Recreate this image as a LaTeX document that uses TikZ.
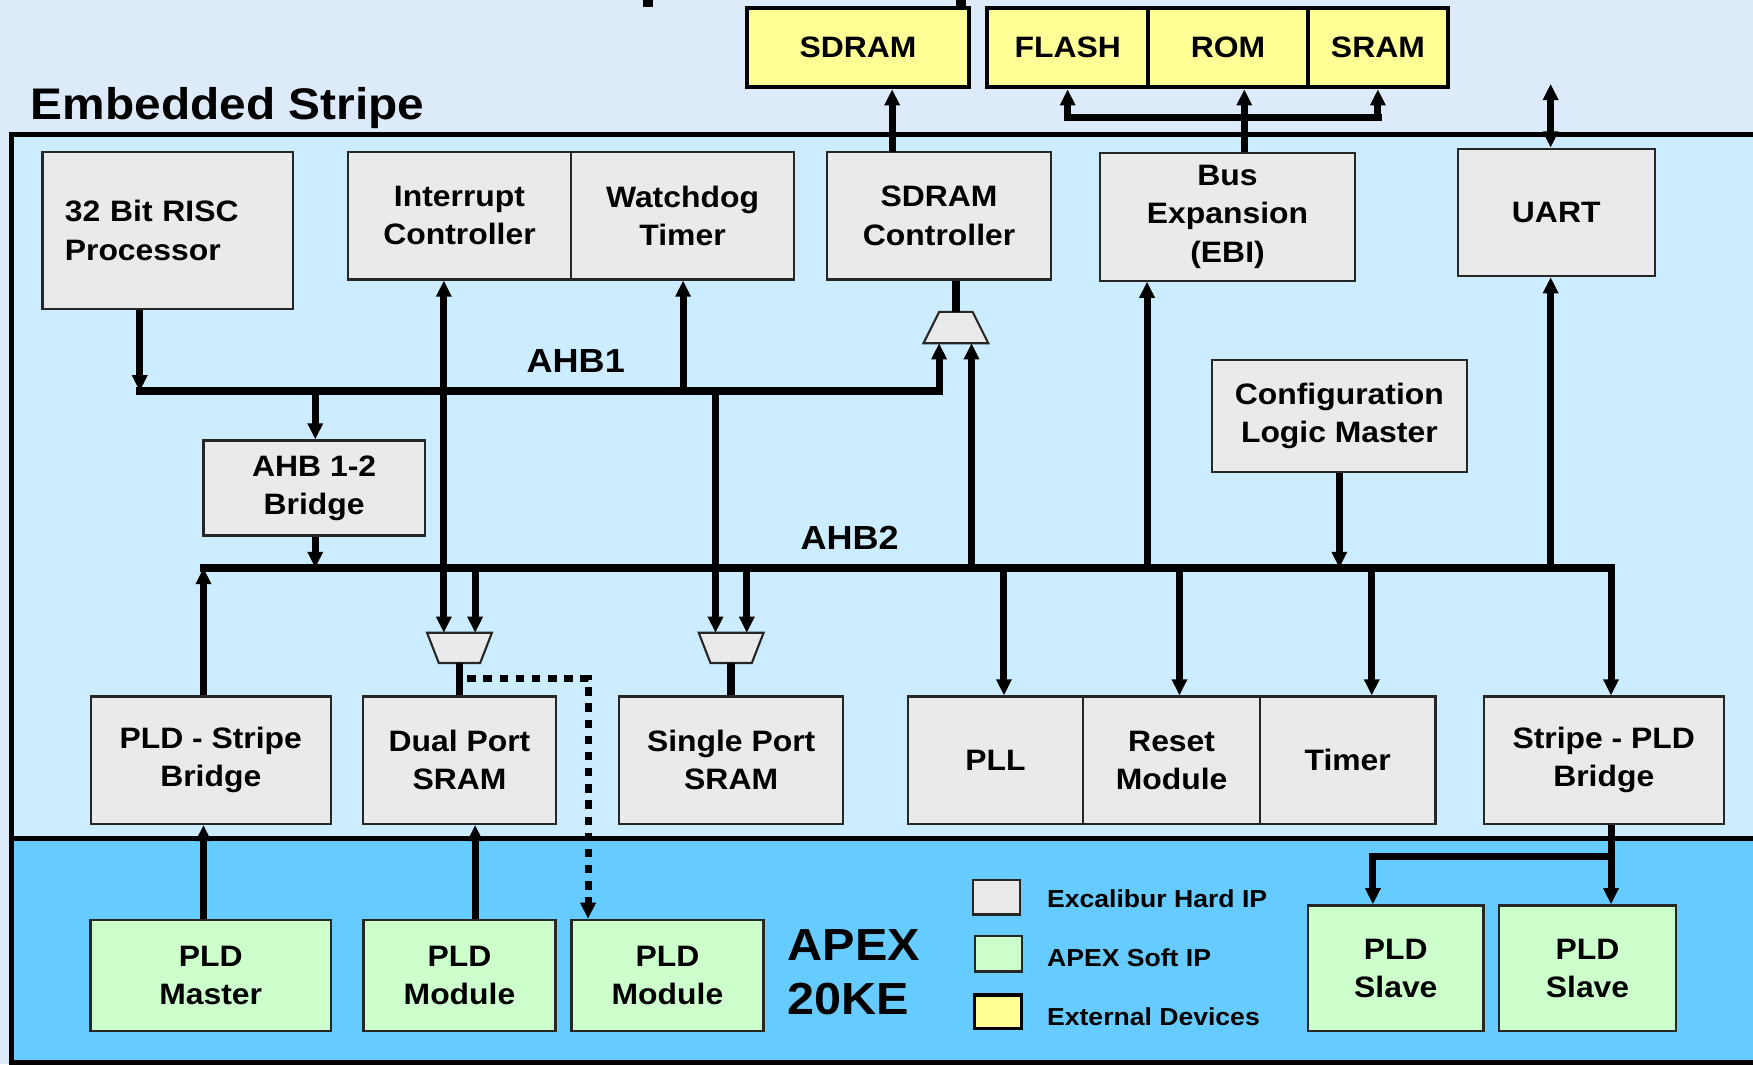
\documentclass[tikz,border=0pt]{standalone}
\usepackage{fontspec}
\setmainfont{Liberation Sans}[FakeStretch=1.08]
\usetikzlibrary{arrows.meta}

\definecolor{bgcol}{RGB}{220,234,250}
\definecolor{stripecol}{RGB}{204,236,255}
\definecolor{apexcol}{RGB}{102,204,255}
\definecolor{hardcol}{RGB}{234,234,234}
\definecolor{softcol}{RGB}{204,255,204}
\definecolor{extcol}{RGB}{255,255,150}

\newlength\pu
\setlength\pu{0.1118mm}

\begin{document}
\begin{tikzpicture}[x=0.1118mm, y=-0.1118mm,
        >={Triangle[length=4.6pt,width=4.2pt]},
        blk/.style={draw=black!85, line width=0.6pt, inner sep=0pt, align=center,
            font=\fontsize{8.4}{10.9}\selectfont\bfseries, minimum height=114\pu},
        hard/.style={blk, fill=hardcol},
        soft/.style={blk, fill=softcol, line width=0.7pt},
        ext/.style={blk, fill=extcol, draw=black, line width=1.2pt, minimum height=71\pu},
        mux/.style={draw=black!85, fill=hardcol, line width=0.6pt},
        frame/.style={draw=black, line width=1.4pt},
        bus/.style={line width=2.2pt, line cap=rect},
        stem/.style={line width=2.2pt},
        arr/.style={line width=2pt, ->},
        dots/.style={line width=2pt, dash pattern=on 2.4pt off 2.2pt, ->},
        legend/.style={anchor=west, inner sep=0pt, font=\fontsize{7}{8}\selectfont\bfseries},
        buslbl/.style={inner sep=0pt, font=\fontsize{9.5}{11}\selectfont\bfseries},
        title/.style={anchor=base west, inner sep=0pt, font=\fontsize{12.8}{15}\selectfont\bfseries}]

        \useasboundingbox (0,0) rectangle (1568,952);
        \fill[bgcol] (0,0) rectangle (1568,952);
        \draw[frame, fill=stripecol] (10,120) rectangle (1590,750);
        \draw[frame, fill=apexcol] (10,750) rectangle (1590,950);

        % cut-off leads at the top edge
        \fill (575,0) rectangle (584,6);
        \fill (855,0) rectangle (864,7);

        \node[title, font=\fontsize{12.6}{15}\selectfont\bfseries] (stripe) at (27,107) {Embedded Stripe};
        \node[title] (apex1) at (704,859) {APEX};
        \node[title] (apex2) at (704,907) {20KE};

        % external devices
        \node[ext, minimum width=199\pu] (sdram) at (767.5,42.5) {SDRAM};
        \node[ext, minimum width=144\pu] (flash) at (955,42.5) {FLASH};
        \node[ext, minimum width=143\pu] (rom) at (1098.5,42.5) {ROM};
        \node[ext, minimum width=125\pu] (srm) at (1232.5,42.5) {SRAM};

        % stripe blocks
        \node[hard, minimum width=224\pu, minimum height=140\pu, text width=184\pu, align=left] (cpu) at (150,206) {32 Bit RISC\\Processor};
        \node[hard, minimum width=200\pu] (irq) at (411,193) {Interrupt\\Controller};
        \node[hard, minimum width=199\pu] (wdt) at (610.5,193) {Watchdog\\Timer};
        \node[hard, minimum width=200\pu] (sdc) at (840,193) {SDRAM\\Controller};
        \node[hard, minimum width=228\pu] (ebi) at (1098,194) {Bus\\Expansion\\(EBI)};
        \node[hard, minimum width=176\pu] (uart) at (1392,190) {UART};
        \node[hard, minimum width=228\pu, minimum height=100\pu] (cfg) at (1198,372) {Configuration\\Logic Master};
        \node[hard, minimum width=198\pu, minimum height=85\pu] (brg) at (281,436.5) {AHB 1-2\\Bridge};

        \node[hard, minimum width=215\pu] (psb) at (188.5,680) {PLD - Stripe\\Bridge};
        \node[hard, minimum width=172\pu] (dpsram) at (411,680) {Dual Port\\SRAM};
        \node[hard, minimum width=200\pu] (spsram) at (654,680) {Single Port\\SRAM};
        \node[hard, minimum width=157\pu] (pll) at (890.5,680) {PLL};
        \node[hard, minimum width=158\pu] (rst) at (1048,680) {Reset\\Module};
        \node[hard, minimum width=157\pu] (tmr) at (1205.5,680) {Timer};
        \node[hard, minimum width=215\pu] (spb) at (1434.5,680) {Stripe - PLD\\Bridge};

        % muxes
        \coordinate (mxsd) at (855,307);
        \coordinate (mxsdout) at (855,279);
        \draw[mux] (mxsd) ++(-29,0) -- ++(58,0) -- ++(-14,-28) -- ++(-30,0) -- cycle;
        \foreach \n/\x in {dp/411, sp/654} {
            \coordinate (mx\n) at (\x,566);
            \coordinate (mx\n out) at (\x,593);
            \draw[mux] (mx\n) ++(-29,0) -- ++(58,0) -- ++(-10.5,27) -- ++(-37,0) -- cycle;
        }

        % APEX blocks
        \node[soft, minimum width=215\pu, minimum height=99\pu] (pldm) at (188.5,872.5) {PLD\\Master};
        \node[soft, minimum width=172\pu, minimum height=99\pu] (mod1) at (411,872.5) {PLD\\Module};
        \node[soft, minimum width=172\pu, minimum height=99\pu] (mod2) at (597,872.5) {PLD\\Module};
        \node[soft, minimum width=157\pu, minimum height=112\pu] (slv1) at (1248.5,866) {PLD\\Slave};
        \node[soft, minimum width=158\pu, minimum height=112\pu] (slv2) at (1420,866) {PLD\\Slave};

        % legend
        \node[hard, minimum width=42\pu, minimum height=31\pu] (lghard) at (891,802.5) {};
        \node[soft, minimum width=42\pu, minimum height=32\pu] (lgsoft) at (893,853) {};
        \node[ext, line width=0.9pt, minimum width=42\pu, minimum height=30\pu] (lgext) at (893,905) {};
        \node[legend] (lghardtxt) at (936,804) {Excalibur Hard IP};
        \node[legend] (lgsofttxt) at (936,857) {APEX Soft IP};
        \node[legend] (lgexttxt) at (936,909) {External Devices};

        % buses
        \coordinate (ahb1w) at (125,350);
        \coordinate (ahb1e) at (840,350);
        \coordinate (ahb2w) at (182,508);
        \coordinate (ahb2e) at (1441,508);
        \draw[bus] (ahb1w) -- (ahb1e);
        \draw[bus] (ahb2w) -- (ahb2e);
        \node[buslbl] (ahb1) at (515,323) {AHB1};
        \node[buslbl] (ahb2) at (760,481) {AHB2};

        \foreach \n/\x in {irq/397, wdt/611, brg/282, sp/640}
            \coordinate (a1\n) at (\x,350);
        \foreach \n/\x in {brg/282, dp/425, sp/668, sd/869, ebi/1026, uart/1387, cfg/1198, pll/898, rst/1055, tmr/1227}
            \coordinate (a2\n) at (\x,508);

        \draw[arr] (ahb1w |- cpu.south) -- (ahb1w);
        \draw[arr] (a1irq) -- (a1irq |- irq.south);
        \draw[arr] (a1irq) -- (a1irq |- mxdp);
        \draw[arr] (a1wdt) -- (a1wdt |- wdt.south);
        \draw[arr] (a1sp) -- (a1sp |- mxsp);
        \draw[arr] (ahb1e) -- (ahb1e |- mxsd);
        \draw[arr] (a1brg) -- (a1brg |- brg.north);
        \draw[arr] (a2brg |- brg.south) -- (a2brg);

        \draw[arr] (ahb2w |- psb.north) -- (ahb2w);
        \draw[arr] (a2dp) -- (a2dp |- mxdp);
        \draw[arr] (a2sp) -- (a2sp |- mxsp);
        \draw[arr] (a2sd) -- (a2sd |- mxsd);
        \draw[arr] (a2ebi) -- (a2ebi |- ebi.south);
        \draw[arr] (a2uart) -- (a2uart |- uart.south);
        \draw[arr] (cfg.south) -- (a2cfg);
        \foreach \n in {pll, rst, tmr}
            \draw[arr] (a2\n) -- (a2\n |- \n.north);
        \draw[arr] (ahb2e) -- (ahb2e |- spb.north);

        \draw[stem] (mxsdout) -- (mxsdout |- sdc.south);
        \draw[stem] (mxdpout) -- (dpsram.north);
        \draw[stem] (mxspout) -- (spsram.north);

        % to the external devices
        \coordinate (sdup) at (798,136);
        \coordinate (ebiup) at (1113,136);
        \coordinate (ebifork) at (1113,105);
        \coordinate (uartup) at (1387,75);
        \draw[arr] (sdup) -- (sdup |- sdram.south);
        \draw[arr] (ebiup) -- (ebiup |- rom.south);
        \draw[bus] (ebifork -| flash.south) -- (ebifork -| srm.south);
        \draw[arr] (ebifork -| flash.south) -- (flash.south);
        \draw[arr] (ebifork -| srm.south) -- (srm.south);
        \draw[line width=2pt, <->] (uartup) -- (uartup |- uart.north);

        % to the PLD
        \draw[arr] (ahb2w |- pldm.north) -- (ahb2w |- psb.south);
        \draw[arr] (a2dp |- mod1.north) -- (a2dp |- dpsram.south);
        \coordinate (dpout) at (418,607);
        \coordinate (dpturn) at (526,607);
        \draw[dots] (dpout) -- (dpturn) -- (dpturn |- mod2.north);

        \coordinate (slfork) at (1441,766);
        \coordinate (slturn) at (1228,766);
        \draw[arr] (ahb2e |- spb.south) -- (ahb2e |- slv2.north);
        \draw[bus] (slfork) -- (slturn);
        \draw[arr] (slturn) -- (slturn |- slv1.north);

\end{tikzpicture}
\end{document}
